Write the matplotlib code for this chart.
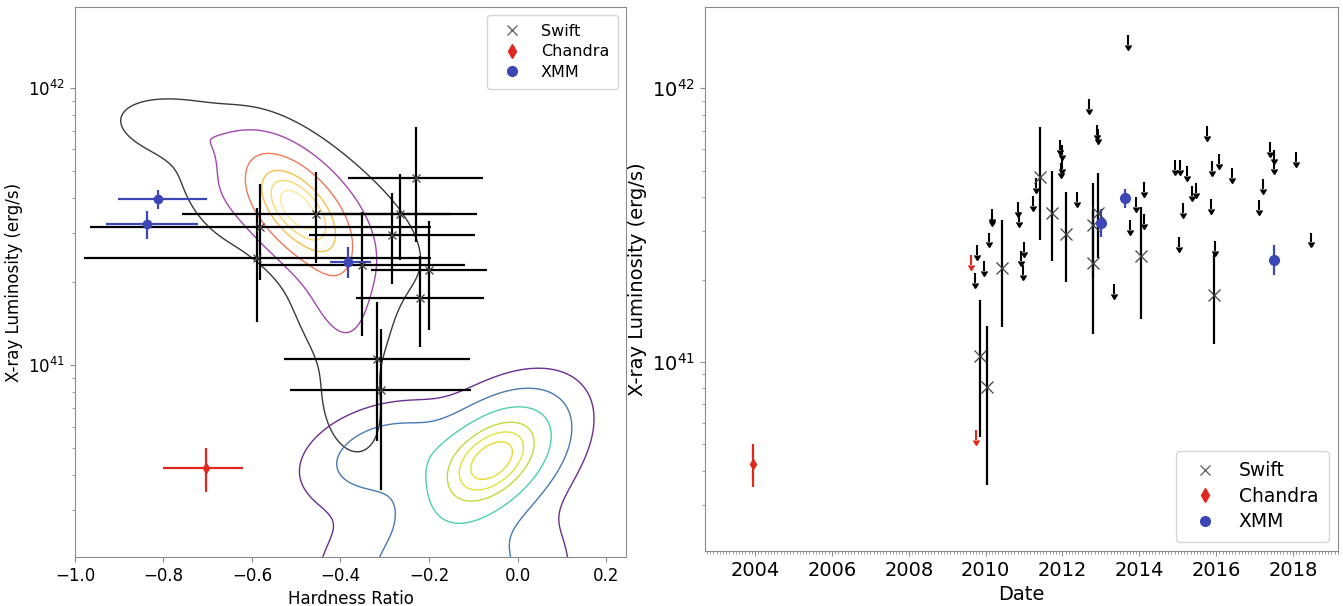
import numpy as np
import matplotlib
matplotlib.use("Agg")
import matplotlib.pyplot as plt
from matplotlib.lines import Line2D, CARETDOWNBASE
from matplotlib.ticker import MultipleLocator, FormatStrFormatter

# ---- Swift detections (luminosity in units of 1e41 erg/s) ----
swift_hr = [-0.230, -0.456, -0.266, -0.581, -0.284, -0.588, -0.351, -0.200, -0.220, -0.317, -0.309]
swift_hr_err = [0.152, 0.303, 0.175, 0.385, 0.188, 0.392, 0.233, 0.131, 0.144, 0.210, 0.204]
swift_date = [2011.42, 2011.74, 2012.92, 2012.80, 2012.08, 2014.04, 2012.80, 2010.42, 2015.95, 2009.86, 2010.03]
swift_lum = [4.74, 3.51, 3.51, 3.16, 2.94, 2.43, 2.30, 2.21, 1.75, 1.05, 0.81]
swift_lum_hi = [7.24, 4.99, 4.90, 4.50, 4.18, 3.68, 3.57, 3.30, 2.47, 1.69, 1.35]
swift_lum_lo = [2.79, 2.33, 2.39, 2.03, 1.96, 1.43, 1.27, 1.34, 1.16, 0.533, 0.355]

# ---- XMM ----
xmm_hr = [-0.813, -0.838, -0.383]
xmm_hr_lo = [0.089, 0.092, 0.040]
xmm_hr_hi = [0.111, 0.115, 0.053]
xmm_date = [2013.62, 2013.01, 2017.50]
xmm_lum = [3.98, 3.22, 2.36]
xmm_lum_hi = [4.27, 3.61, 2.67]
xmm_lum_lo = [3.66, 2.85, 2.07]

# ---- Chandra ----
chandra_hr = [-0.704]
chandra_hr_lo = [0.097]
chandra_hr_hi = [0.084]
chandra_date = [2003.96]
chandra_lum = [0.425]
chandra_lum_hi = [0.50]
chandra_lum_lo = [0.348]
chandra_ul_date = [2009.63, 2009.76]
chandra_ul_lum = [2.45, 0.565]

# ---- Swift upper limits ----
swift_ul_date = [2013.70, 2012.70, 2012.90, 2012.92, 2011.94, 2011.98, 2011.98, 2011.97,
                 2011.30, 2012.37, 2011.23, 2013.92, 2010.84, 2010.86, 2010.17, 2010.17,
                 2013.76, 2010.10, 2011.01, 2009.77, 2010.92, 2009.97, 2010.97, 2009.72,
                 2013.34, 2015.77, 2017.41, 2017.51, 2018.07, 2016.07, 2014.92, 2015.06,
                 2015.90, 2017.51, 2015.25, 2016.42, 2014.12, 2015.47, 2015.37, 2017.23,
                 2015.14, 2015.87, 2017.11, 2014.12, 2015.03, 2015.96, 2018.47]
swift_ul_lum = [15.6, 9.16, 7.33, 7.08, 6.46, 6.19, 5.51, 5.32,
                4.71, 4.19, 4.04, 4.01, 3.85, 3.54, 3.63, 3.55,
                3.30, 2.97, 2.75, 2.67, 2.54, 2.34, 2.26, 2.11,
                1.92, 7.28, 6.34, 5.97, 5.86, 5.74, 5.47, 5.47,
                5.40, 5.50, 5.18, 5.12, 4.53, 4.49, 4.39, 4.65,
                3.80, 3.94, 3.89, 3.48, 2.86, 2.77, 2.97]

# ---- density contours: gaussian mixtures in (hardness, log10 L) ----
# (weight, mean_hr, mean_logL, sd_hr, sd_logL, rho)
soft_comps = [(1.00, -0.499, 41.565, 0.075, 0.13, -0.55),
              (0.17, -0.405, 41.25, 0.06, 0.15, -0.3),
              (0.07, -0.375, 40.85, 0.05, 0.13, -0.2),
              (0.10, -0.76, 41.85, 0.09, 0.07, -0.3),
              (0.07, -0.68, 41.62, 0.06, 0.12, -0.5),
              (0.07, -0.41, 41.54, 0.15, 0.20, -0.6)]
soft_levels = [0.03, 0.12, 0.33, 0.58, 0.74, 0.88]
soft_colors = ['#3a3a3a', '#a347b0', '#f0785a', '#f6c14a', '#f8d870', '#fbe9a0']

hard_comps = [(1.00, -0.055, 40.66, 0.09, 0.13, 0.45),
              (0.25, -0.30, 40.68, 0.10, 0.10, 0.3),
              (0.25, -0.17, 40.22, 0.15, 0.20, 0.1)]
hard_levels = [0.04, 0.14, 0.34, 0.58, 0.74, 0.88]
hard_colors = ['#6b2f8f', '#4a7ab0', '#4fcfae', '#bfdc3c', '#dfe23a', '#e8dc30']

blue = '#3c46b4'
red = '#e0281e'
E41 = 1e41


def mixture(comps, U, V):
    z = np.zeros_like(U)
    for w, mu, mv, su, sv, r in comps:
        du = (U - mu) / su
        dv = (V - mv) / sv
        q = (du**2 - 2 * r * du * dv + dv**2) / (1 - r**2)
        z += w * np.exp(-0.5 * q)
    return z / z.max()


def errs(val, lo, hi):
    val = np.array(val) * E41
    return val, [val - np.array(lo) * E41, np.array(hi) * E41 - val]


def upper_limits(ax, x, y, color):
    y = np.array(y) * E41
    ax.vlines(x, y * 0.92, y, color=color, lw=1.5)
    ax.plot(x, y * 0.92, ls='none', marker=CARETDOWNBASE, color=color, ms=5)


fig = plt.figure(figsize=(13.43, 6.06), dpi=100)
ax1 = fig.add_axes([0.0558, 0.0809, 0.4103, 0.9076])
ax2 = fig.add_axes([0.525, 0.0908, 0.4713, 0.8977])

s_lum, s_yerr = errs(swift_lum, swift_lum_lo, swift_lum_hi)
x_lum, x_yerr = errs(xmm_lum, xmm_lum_lo, xmm_lum_hi)
c_lum, c_yerr = errs(chandra_lum, chandra_lum_lo, chandra_lum_hi)

# ---------------- left: hardness ratio ----------------
u = np.linspace(-1.0, 0.3, 400)
v = np.linspace(40.2, 42.4, 400)
U, V = np.meshgrid(u, v)
ax1.contour(U, 10**V, mixture(soft_comps, U, V), levels=soft_levels,
            colors=soft_colors, linewidths=1.0)
ax1.contour(U, 10**V, mixture(hard_comps, U, V), levels=hard_levels,
            colors=hard_colors, linewidths=1.0)

ax1.errorbar(swift_hr, s_lum, xerr=swift_hr_err, yerr=s_yerr,
             fmt='x', color='k', mec='0.25', ms=6, mew=0.9, elinewidth=1.6, ecolor='k')
ax1.errorbar(xmm_hr, x_lum, xerr=[xmm_hr_lo, xmm_hr_hi], yerr=x_yerr,
             fmt='o', color=blue, ms=6, elinewidth=1.6)
ax1.errorbar(chandra_hr, c_lum, xerr=[chandra_hr_lo, chandra_hr_hi], yerr=c_yerr,
             fmt='d', color=red, ms=5, elinewidth=1.6)

ax1.set_yscale('log')
ax1.set_xlim(-1.0, 0.245)
ax1.set_ylim(2.03e40, 1.96e42)
ax1.set_xlabel('Hardness Ratio', fontsize=12)
ax1.set_ylabel('X-ray Luminosity (erg/s)', fontsize=12)
ax1.tick_params(labelsize=12)

# ---------------- right: light curve ----------------
ax2.errorbar(swift_date, s_lum, yerr=s_yerr,
             fmt='x', color='k', mec='0.25', ms=8, mew=0.9, elinewidth=1.6, ecolor='k')
ax2.errorbar(xmm_date, x_lum, yerr=x_yerr, fmt='o', color=blue, ms=7, elinewidth=1.6)
ax2.errorbar(chandra_date, c_lum, yerr=c_yerr, fmt='d', color=red, ms=5, elinewidth=1.6)
upper_limits(ax2, swift_ul_date, swift_ul_lum, 'k')
upper_limits(ax2, chandra_ul_date, chandra_ul_lum, red)

ax2.set_yscale('log')
ax2.set_xlim(2002.70, 2019.17)
ax2.set_ylim(2.04e40, 1.98e42)
ax2.xaxis.set_major_locator(MultipleLocator(2))
ax2.xaxis.set_minor_locator(MultipleLocator(1 / 12))
ax2.xaxis.set_major_formatter(FormatStrFormatter('%d'))
ax2.set_xlabel('Date', fontsize=14)
ax2.set_ylabel('X-ray Luminosity (erg/s)', fontsize=14)
ax2.tick_params(labelsize=14)

for ax in (ax1, ax2):
    for sp in ax.spines.values():
        sp.set_color('0.55')
    ax.tick_params(which='both', color='0.55')

handles = [Line2D([], [], ls='none', marker='x', color='0.35', ms=7, mew=0.9),
           Line2D([], [], ls='none', marker='d', color=red, ms=7),
           Line2D([], [], ls='none', marker='o', color=blue, ms=7)]
labels = ['Swift', 'Chandra', 'XMM']
ax1.legend(handles, labels, loc='upper right', fontsize=11.5, labelspacing=0.35,
           borderpad=0.55)
ax2.legend(handles, labels, loc='lower right', fontsize=13.5, labelspacing=0.35,
           borderpad=0.55)

fig.savefig('out.png', dpi=100)
